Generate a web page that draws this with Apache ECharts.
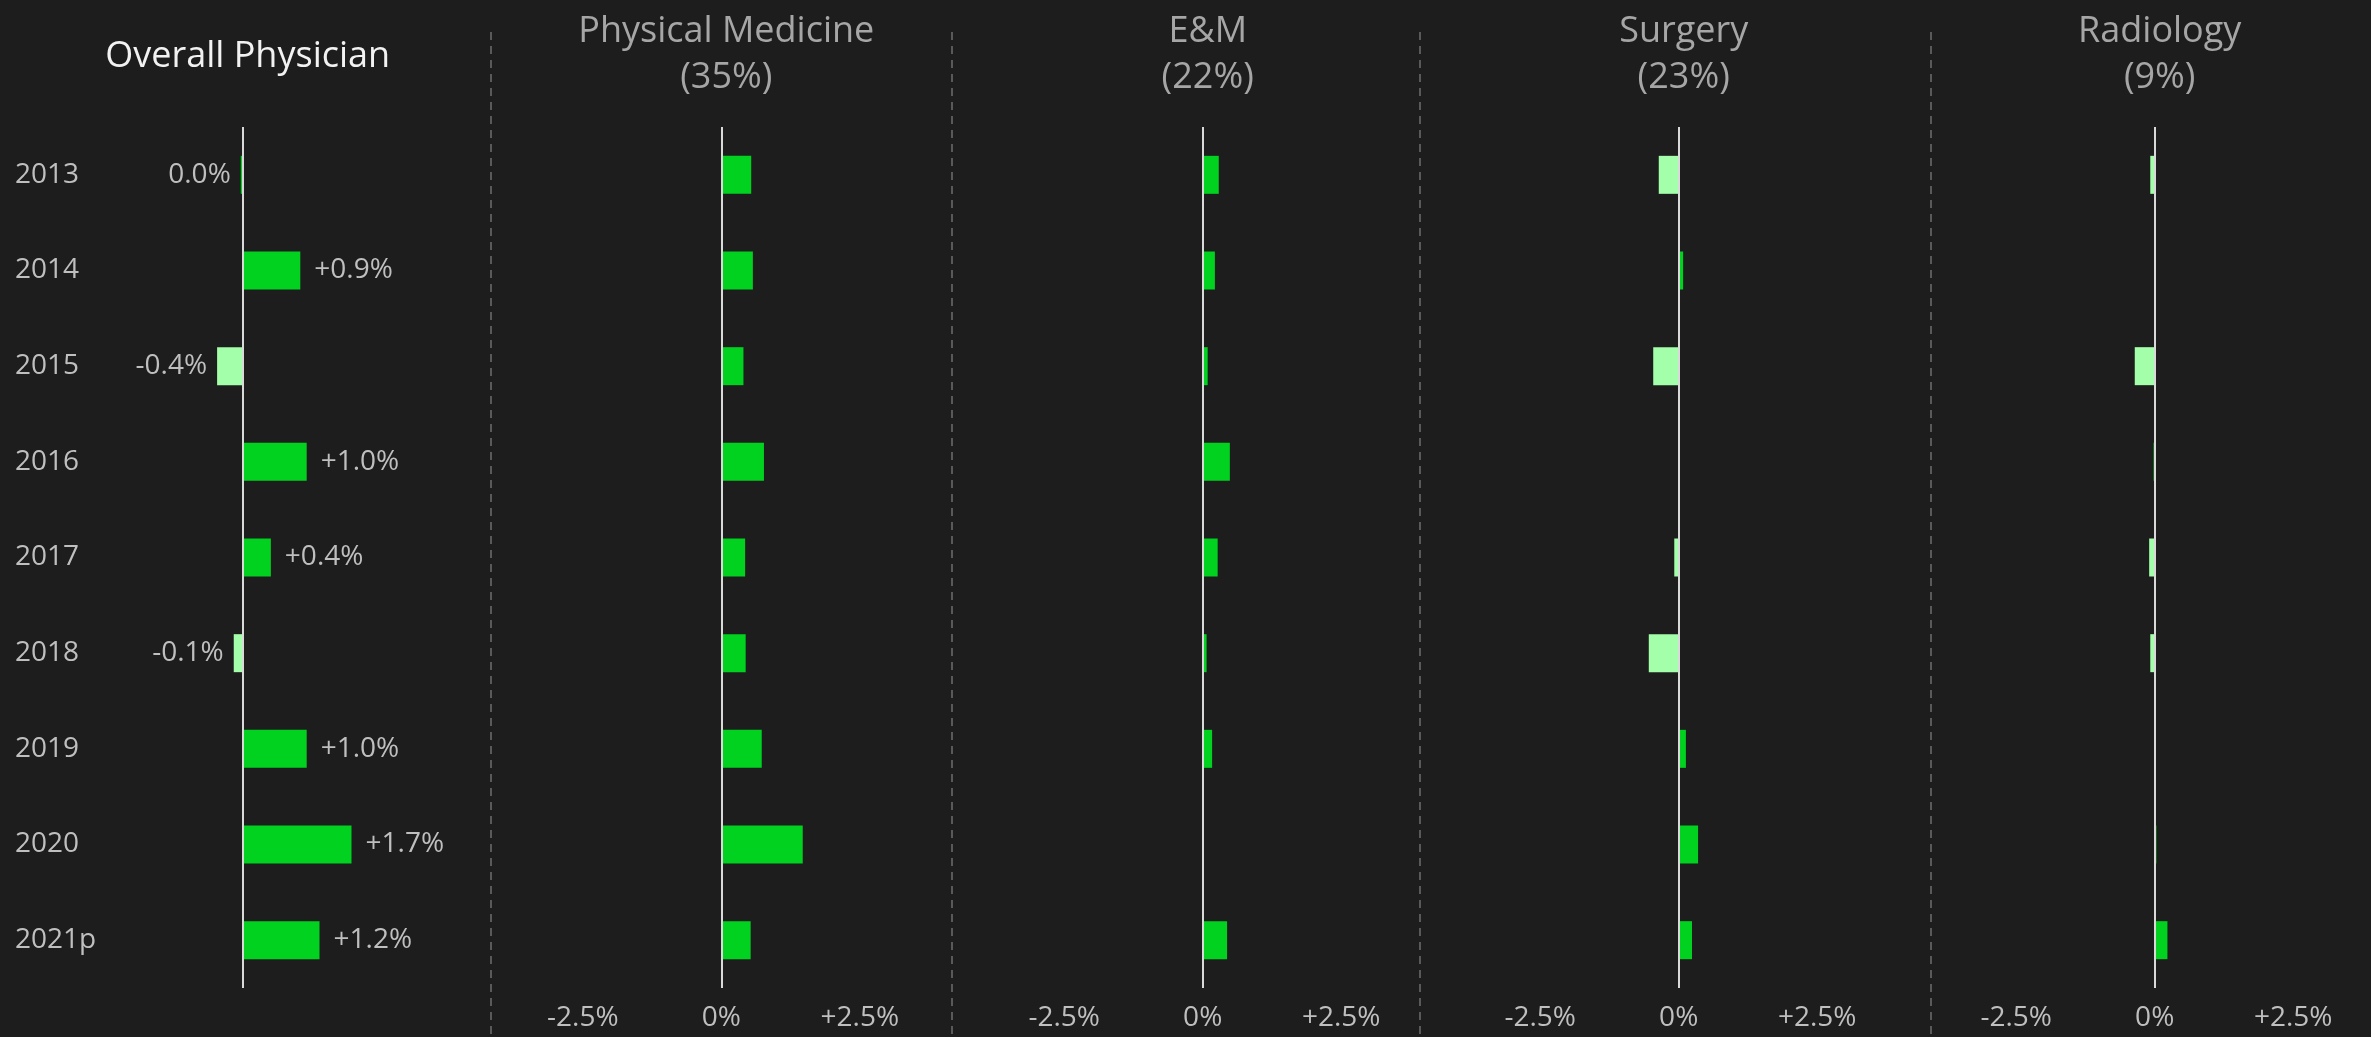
<!DOCTYPE html>
<html>
<head>
<meta charset="utf-8">
<title>Physician price growth by specialty</title>
<script src="https://cdn.jsdelivr.net/npm/echarts@6/dist/echarts.min.js"></script>
<style>
    html, body { margin: 0; padding: 0; background: #1d1d1d; }
    #chart { width: 2371px; height: 1037px; }
</style>
</head>
<body>
<div id="chart"></div>
<script>
    // values in % change per year
    const years = ['2013', '2014', '2015', '2016', '2017', '2018', '2019', '2020', '2021p'];
    const overall = [-0.03, 0.9, -0.4, 1.0, 0.44, -0.14, 1.0, 1.7, 1.2];
    const physicalMedicine = [0.54, 0.57, 0.40, 0.77, 0.43, 0.44, 0.73, 1.47, 0.53];
    const eAndM = [0.29, 0.22, 0.09, 0.49, 0.27, 0.07, 0.17, 0, 0.44];
    const surgery = [-0.36, 0.08, -0.46, 0, -0.08, -0.54, 0.13, 0.35, 0.24];
    const radiology = [-0.08, 0, -0.36, -0.02, -0.10, -0.08, 0, 0.03, 0.23];

    const panelTitles = ['Overall Physician', 'Physical Medicine\n(35%)', 'E&M\n(22%)', 'Surgery\n(23%)', 'Radiology\n(9%)'];
    const tickValues = [-2.5, 0, 2.5];
    const tickLabels = ['-2.5%', '0%', '+2.5%'];

    const panels = [overall, physicalMedicine, eAndM, surgery, radiology];

    // layout
    const FONT = '"Open Sans", "Noto Sans", sans-serif';
    const zeroX = [242.7, 721.3, 1202.7, 1678.7, 2154.7];
    const pxPerPct = [64, 55.4, 55.4, 55.4, 55.4];
    const range = [2.5, 3.75, 3.75, 3.75, 3.75];
    const dividers = [491, 952, 1420, 1931];
    const gridTop = 127;
    const gridHeight = 861;
    const DARK = '#00d21f';
    const LIGHT = '#a3ffa9';

    function fmtValue(v) {
        const r = Math.round(v * 10) / 10;
        if (r === 0) {
            return '0.0%';
        }
        return (r > 0 ? '+' : '') + r.toFixed(1) + '%';
    }

    const grid = [];
    const xAxis = [];
    const yAxis = [];
    const series = [];
    const title = [];

    panels.forEach((vals, i) => {
        const w = range[i] * 2 * pxPerPct[i];
        grid.push({
            left: zeroX[i] - w / 2,
            top: gridTop,
            width: w,
            height: gridHeight
        });
        xAxis.push({
            type: 'value',
            gridIndex: i,
            min: -range[i],
            max: range[i],
            interval: i === 0 ? 2.5 : 1.25,
            axisLine: {show: false},
            axisTick: {show: false},
            splitLine: {show: false},
            axisLabel: {
                show: i !== 0,
                margin: 16,
                color: '#bfbfbf',
                fontSize: 28,
                fontFamily: FONT,
                formatter: function (v) {
                    const k = tickValues.indexOf(v);
                    return k >= 0 ? tickLabels[k] : '';
                }
            }
        });
        yAxis.push({
            type: 'category',
            gridIndex: i,
            inverse: true,
            data: years,
            axisLine: {show: false},
            axisTick: {show: false},
            axisLabel: {
                show: i === 0,
                align: 'left',
                margin: zeroX[0] - range[0] * pxPerPct[0] - 15,
                color: '#bfbfbf',
                fontSize: 28,
                fontFamily: FONT
            }
        });
        series.push({
            type: 'bar',
            xAxisIndex: i,
            yAxisIndex: i,
            barWidth: 38,
            animation: false,
            data: vals.map(v => ({
                value: v,
                itemStyle: {color: v < -0.05 ? LIGHT : DARK},
                label: v < 0 ? {position: 'left', distance: 10} : {position: 'right', distance: 14}
            })),
            label: {
                show: i === 0,
                color: '#bfbfbf',
                fontSize: 28,
                fontFamily: FONT,
                formatter: p => fmtValue(p.value)
            },
            markLine: {
                silent: true,
                symbol: 'none',
                animation: false,
                label: {show: false},
                lineStyle: {color: '#d9d9d9', width: 2, type: 'solid'},
                data: [{xAxis: 0}]
            }
        });
        title.push({
            text: panelTitles[i],
            left: zeroX[i],
            top: i === 0 ? 29 : 4,
            textAlign: 'center',
            textStyle: {
                color: i === 0 ? '#f2f2f2' : '#a6a6a6',
                fontSize: 36,
                fontWeight: 'normal',
                fontFamily: FONT,
                lineHeight: 46
            }
        });
    });

    const chart = echarts.init(document.getElementById('chart'));
    chart.setOption({
        backgroundColor: '#1d1d1d',
        animation: false,
        title: title,
        grid: grid,
        xAxis: xAxis,
        yAxis: yAxis,
        series: series,
        graphic: dividers.map(x => ({
            type: 'line',
            silent: true,
            shape: {x1: x, y1: 32, x2: x, y2: 1037},
            style: {stroke: '#6e6e6e', lineWidth: 1.5, lineDash: [8, 6]}
        }))
    });
</script>
</body>
</html>
